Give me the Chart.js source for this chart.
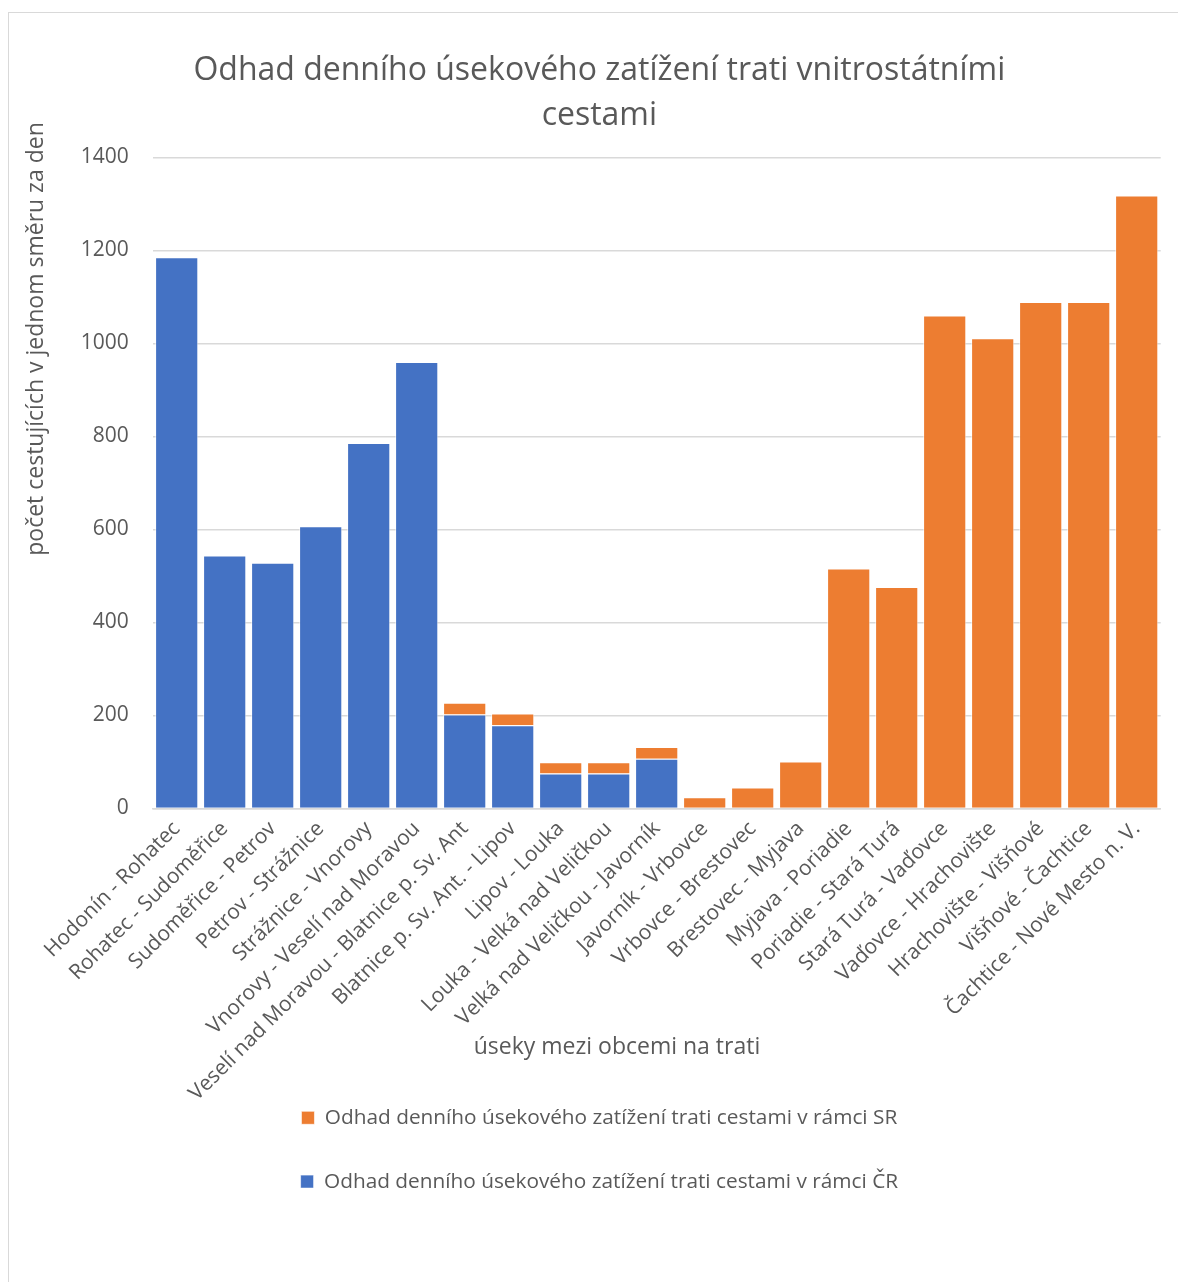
<!DOCTYPE html>
<html>
<head>
<meta charset="utf-8">
<script src="https://cdn.jsdelivr.net/npm/chart.js@4.4.1/dist/chart.umd.min.js"></script>
<style>
  html, body { margin: 0; padding: 0; background: #ffffff; }
  #wrap { position: absolute; left: 0; top: 0; width: 1178px; height: 1282px; }
  #frame { position: absolute; left: 8px; top: 12px; width: 1180px; height: 1280px;
           border-left: 1px solid #d9d9d9; border-top: 1px solid #d9d9d9; pointer-events: none; }
</style>
</head>
<body>
<div id="wrap"><canvas id="c" width="1178" height="1282"></canvas></div>
<div id="frame"></div>
<script>
const categories = [
  "Hodonín - Rohatec", "Rohatec - Sudoměřice", "Sudoměřice - Petrov", "Petrov - Strážnice",
  "Strážnice - Vnorovy", "Vnorovy - Veselí nad Moravou", "Veselí nad Moravou - Blatnice p. Sv. Ant",
  "Blatnice p. Sv. Ant. - Lipov", "Lipov - Louka", "Louka - Velká nad Veličkou",
  "Velká nad Veličkou - Javorník", "Javorník - Vrbovce", "Vrbovce - Brestovec",
  "Brestovec - Myjava", "Myjava - Poriadie", "Poriadie - Stará Turá", "Stará Turá - Vaďovce",
  "Vaďovce - Hrachovište", "Hrachovište - Višňové", "Višňové - Čachtice", "Čachtice - Nové Mesto n. V."
];
const valuesCR = [1185, 544, 528, 607, 786, 960, 202, 179, 75, 75, 107, null, null, null, null, null, null, null, null, null, null];
const valuesSR = [null, null, null, null, null, null, 25, 25, 24, 24, 25, 24, 45, 101, 516, 476, 1060, 1011, 1089, 1089, 1318];
const labelCR = "Odhad denního úsekového zatížení trati cestami v rámci ČR";
const labelSR = "Odhad denního úsekového zatížení trati cestami v rámci SR";
const chartTitle = ["Odhad denního úsekového zatížení trati vnitrostátními", "cestami"];
const yTitle = "počet cestujících v jednom směru za den";
const xTitle = "úseky mezi obcemi na trati";
const yTicks = { min: 0, max: 1400, step: 200 };

const FONT = "'Open Sans', 'Noto Sans', sans-serif";
const TXT = "#595959";

// Let the long rotated category labels run below the (shortened) x-axis box, as in the original.
const unclipLabels = {
  id: "unclipLabels",
  afterLayout(chart) {
    const s = chart.scales.x;
    s.bottom = chart.height;
  }
};

const axisTitles = {
  id: "axisTitles",
  afterDraw(chart) {
    const ctx = chart.ctx;
    ctx.save();
    ctx.fillStyle = TXT;
    ctx.font = "23px " + FONT;
    ctx.textAlign = "center";
    ctx.textBaseline = "middle";
    ctx.translate(36, 339);
    ctx.rotate(-Math.PI / 2);
    ctx.fillText(yTitle, 0, 0);
    ctx.restore();
    ctx.save();
    ctx.fillStyle = TXT;
    ctx.font = "23px " + FONT;
    ctx.textAlign = "center";
    ctx.textBaseline = "middle";
    ctx.fillText(xTitle, 617, 1047);
    ctx.restore();
  }
};

new Chart(document.getElementById("c"), {
  type: "bar",
  data: {
    labels: categories,
    datasets: [
      { label: labelCR, data: valuesCR, backgroundColor: "#4472C4", borderColor: "rgba(255,255,255,0.6)", borderWidth: 1 },
      { label: labelSR, data: valuesSR, backgroundColor: "#ED7D31", borderColor: "rgba(255,255,255,0.6)", borderWidth: 1 }
    ]
  },
  options: {
    responsive: false,
    animation: false,
    layout: { padding: { left: 38, right: 17.3, top: 0, bottom: 80 } },
    datasets: { bar: { categoryPercentage: 1.0, barPercentage: 0.9 } },
    plugins: {
      title: {
        display: true,
        text: chartTitle,
        color: TXT,
        font: { family: FONT, size: 32, weight: "normal", lineHeight: 1.42 },
        padding: { top: 48, bottom: 18.5 }
      },
      legend: {
        display: true,
        position: "bottom",
        reverse: true,
        labels: {
          color: TXT,
          font: { family: FONT, size: 20.8 },
          boxWidth: 13,
          boxHeight: 13,
          padding: 43
        }
      },
      tooltip: { enabled: false }
    },
    scales: {
      x: {
        stacked: true,
        grid: { display: false, drawTicks: false },
        border: { display: true, color: "#d9d9d9", width: 1.5 },
        ticks: {
          color: TXT,
          font: { family: FONT, size: 21 },
          minRotation: 45,
          maxRotation: 45,
          autoSkip: false,
          padding: 8
        },
        afterFit(scale) { scale.height = 256; }
      },
      y: {
        stacked: true,
        min: yTicks.min,
        max: yTicks.max,
        grid: { color: "#d9d9d9", lineWidth: 1.5, drawTicks: false },
        border: { display: false },
        ticks: {
          stepSize: yTicks.step,
          color: TXT,
          font: { family: FONT, size: 21 },
          padding: 24,
          callback: (v) => String(v)
        },
        afterFit(scale) { scale.width = 114.7; }
      }
    }
  },
  plugins: [unclipLabels, axisTitles]
});
</script>
</body>
</html>
